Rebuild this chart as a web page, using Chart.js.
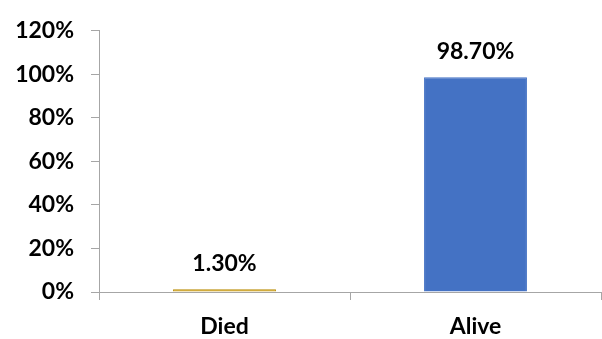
<!DOCTYPE html>
<html>
<head>
<meta charset="utf-8">
<script src="https://cdn.jsdelivr.net/npm/chart.js@4/dist/chart.umd.min.js"></script>
<style>
  html, body { margin: 0; padding: 0; background: #fff; }
  #chart { display: block; }
</style>
</head>
<body>
<canvas id="chart" width="602" height="339"></canvas>
<script>
const categories = ['Died', 'Alive'];
const values = [1.3, 98.7];
const barColors = ['#C99A12', '#4472C4'];
const borderColors = ['#B88A00', '#4472C4'];

const FONT = "'Lato', 'Open Sans', sans-serif";

// draws the value above each bar
const valueLabels = {
    id: 'valueLabels',
    afterDatasetsDraw(chart) {
        const ctx = chart.ctx;
        const meta = chart.getDatasetMeta(0);
        ctx.save();
        ctx.font = `bold 23px ${FONT}`;
        ctx.fillStyle = '#000';
        ctx.textAlign = 'center';
        ctx.textBaseline = 'alphabetic';
        meta.data.forEach((bar, i) => {
            ctx.fillText(values[i].toFixed(2) + '%', bar.x, bar.y - 18);
        });
        ctx.restore();
    }
};

const ctx = document.getElementById('chart').getContext('2d');
new Chart(ctx, {
    type: 'bar',
    data: {
        labels: categories,
        datasets: [{
            data: values,
            backgroundColor: barColors,
            borderColor: borderColors,
            borderWidth: 1,
            categoryPercentage: 0.82,
            barPercentage: 0.5
        }]
    },
    options: {
        responsive: false,
        animation: false,
        layout: { padding: { top: 19, right: 1, left: 0, bottom: 0 } },
        plugins: {
            legend: { display: false },
            tooltip: { enabled: false }
        },
        scales: {
            x: {
                offset: true,
                afterFit(scale) { scale.height = 47; },
                grid: {
                    offset: true,
                    drawOnChartArea: false,
                    drawTicks: true,
                    tickLength: 8,
                    color: '#A6A6A6'
                },
                border: { color: '#A6A6A6', width: 1 },
                ticks: {
                    color: '#000',
                    padding: 13,
                    font: { family: FONT, size: 23, weight: 'bold' }
                }
            },
            y: {
                min: 0,
                max: 120,
                afterFit(scale) { scale.width = 99; },
                grid: {
                    drawOnChartArea: false,
                    drawTicks: true,
                    tickLength: 8,
                    color: '#A6A6A6'
                },
                border: { color: '#A6A6A6', width: 1 },
                ticks: {
                    stepSize: 20,
                    color: '#000',
                    padding: 17,
                    font: { family: FONT, size: 23, weight: 'bold' },
                    callback: v => v + '%'
                }
            }
        }
    },
    plugins: [valueLabels]
});
</script>
</body>
</html>
